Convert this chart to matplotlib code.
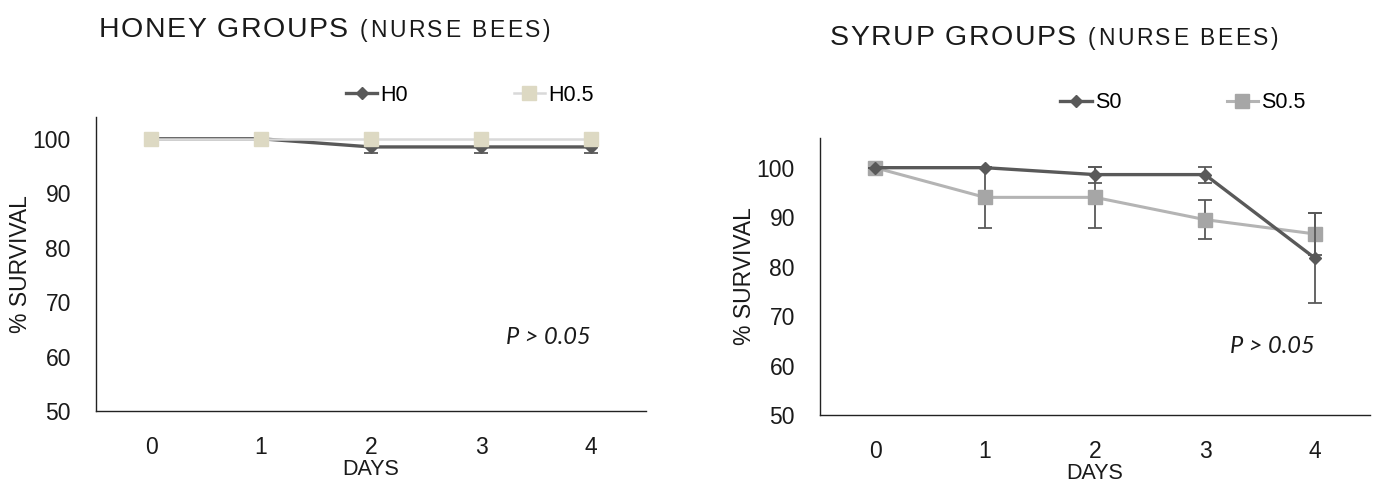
import matplotlib
matplotlib.use('Agg')
import matplotlib.pyplot as plt
from matplotlib.font_manager import FontProperties
from matplotlib.lines import Line2D

days = [0, 1, 2, 3, 4]

h0 = [100, 100, 98.5, 98.5, 98.5]
h0_err = [0, 0, 1.2, 1.2, 1.2]
h05 = [100, 100, 100, 100, 100]

s0 = [100, 100, 98.6, 98.6, 81.7]
s0_err = [0, 0, 1.6, 1.6, 9.1]
s05 = [100, 94.0, 94.0, 89.5, 86.6]
s05_err = [0, 6.1, 6.1, 4.0, 4.2]

yticks = [50, 60, 70, 80, 90, 100]

W, H = 1378, 484
dark = '#595959'
beige = '#ddd9c3'
light_line = '#d9d9d9'
grey = '#a6a6a6'
grey_line = '#b4b4b4'
txt = '#1a1a1a'

plt.rcParams['font.family'] = ['Liberation Sans', 'DejaVu Sans']

fig = plt.figure(figsize=(W / 100, H / 100), dpi=100)


def px_axes(x0, x1, ybot, ytop):
    return fig.add_axes([x0 / W, 1 - ybot / H, (x1 - x0) / W, (ybot - ytop) / H])


def spaced_text(x_px, y_px, s, size, target_w):
    # draw text char by char so the total width matches target_w (letter spacing)
    prop = FontProperties(family='Liberation Sans', size=size)
    r = fig.canvas.get_renderer()
    full = r.get_text_width_height_descent(s, prop, ismath=False)[0]
    gap = (target_w - full) / (len(s) - 1)
    for i, ch in enumerate(s):
        if ch == ' ':
            continue
        off = r.get_text_width_height_descent(s[:i], prop, ismath=False)[0] if i else 0
        fig.text((x_px + off + i * gap) / W, 1 - y_px / H, ch, fontproperties=prop,
                 va='baseline', ha='left', color=txt)


def style(ax, ytop):
    ax.set_xlim(-0.5, 4.5)
    ax.set_ylim(50, ytop)
    ax.set_xticks(days)
    ax.set_yticks(yticks)
    for sp in ['top', 'right']:
        ax.spines[sp].set_visible(False)
    for sp in ['left', 'bottom']:
        ax.spines[sp].set_color('#222222')
        ax.spines[sp].set_linewidth(1.0)
    ax.tick_params(length=0, labelsize=16.5, colors=txt)
    ax.tick_params(axis='y', pad=18)
    ax.tick_params(axis='x', pad=18)
    ax.set_xlabel('DAYS', fontsize=15.5, labelpad=0, color=txt)
    ax.set_ylabel('% SURVIVAL', fontsize=16.5, color=txt)
    ax.yaxis.set_label_coords(-0.116, 0.5)


def legend(ax, cx, cy, labels, styles):
    handles = [Line2D([], [], **st) for st in styles]
    ax.legend(handles, labels, loc='center', bbox_to_anchor=(cx / W, 1 - cy / H),
              bbox_transform=fig.transFigure, ncol=2, frameon=False, fontsize=15.5,
              handlelength=1.45, handletextpad=0.15, columnspacing=4.9)


h0_style = dict(color=dark, lw=2.4, marker='D', ms=6)
h05_style = dict(color=light_line, lw=1.8, marker='s', ms=10, mfc=beige, mec=beige)
s0_style = dict(color=dark, lw=2.4, marker='D', ms=6)
s05_style = dict(color=grey_line, lw=2.2, marker='s', ms=10, mfc=grey, mec=grey)
ebar = dict(ecolor=dark, elinewidth=1.3, capsize=5, capthick=1.3)

# ---- honey ----
ax1 = px_axes(96, 646, 411, 117)
style(ax1, 104)
ax1.errorbar(days, h0, yerr=h0_err, zorder=2, **h0_style, **ebar)
ax1.plot(days, h05, zorder=3, **h05_style)
ax1.text(4.0, 63.5, 'P > 0.05', family=['Lato', 'DejaVu Sans'], style='italic',
         fontsize=17, ha='right', va='center', color=txt)
legend(ax1, 470, 95, ['H0', 'H0.5'], [h0_style, h05_style])

# ---- syrup ----
ax2 = px_axes(820, 1370, 415, 138)
style(ax2, 106)
ax2.errorbar(days, s0, yerr=s0_err, zorder=3, **s0_style, **ebar)
ax2.errorbar(days, s05, yerr=s05_err, zorder=2, **s05_style, **ebar)
ax2.text(4.0, 63.8, 'P > 0.05', family=['Lato', 'DejaVu Sans'], style='italic',
         fontsize=17, ha='right', va='center', color=txt)
legend(ax2, 1183, 103, ['S0', 'S0.5'], [s0_style, s05_style])

# titles
spaced_text(99, 37, 'HONEY GROUPS', 20.5, 249)
spaced_text(360, 37, '(NURSE BEES)', 16.5, 190)
spaced_text(830, 45, 'SYRUP GROUPS', 20.5, 246)
spaced_text(1088, 45, '(NURSE BEES)', 16.5, 190)

fig.savefig('out.png', dpi=100)
